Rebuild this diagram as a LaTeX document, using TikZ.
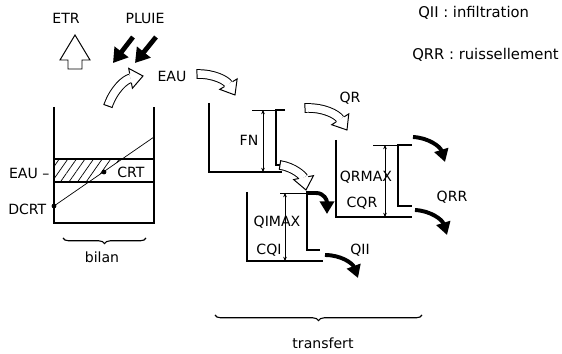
\documentclass[tikz,border=0pt]{standalone}
\usepackage{fontspec}
\setmainfont{DejaVu Sans}
\usetikzlibrary{positioning, arrows.meta, decorations.markings, decorations.pathreplacing, patterns.meta}
\tikzset{
    wand/.style      = {line width=1.4pt},
    wehr/.style      = {line width=1.9pt},
    duenn/.style     = {line width=0.5pt},
    mass/.style      = {line width=0.4pt, {Stealth[length=3pt,width=2.6pt]}-{Stealth[length=3pt,width=2.6pt]}},
    beschr/.style    = {font=\fontsize{10}{12}\selectfont, inner sep=1pt},
    legende/.style   = {font=\fontsize{10.5}{12}\selectfont, inner sep=0pt, anchor=west},
    fluss/.style     = {line width=2.8pt, -{Triangle[length=9pt, width=10pt]}},
    regen/.style     = {line width=3.4pt, -{Triangle[length=10pt, width=12pt]}},
    hohlschaft/.style= {line width=0.7pt, double=white, double distance=5.4pt, shorten >=9pt},
    hohlkopf/.style  = {postaction={decorate}, decoration={markings,
        mark=at position 0 with {\draw[line width=0.7pt] (0,-3.4pt) -- (0,3.4pt);},
        mark=at position 1 with {\draw[line width=0.7pt, fill=white, line join=miter]
            (-9pt,3.4pt) -- (-9pt,7.2pt) -- (0,0) -- (-9pt,-7.2pt) -- (-9pt,-3.4pt);}}},
    klammer/.style   = {decorate, decoration={brace, mirror, amplitude=4pt}, line width=0.8pt}
}
\newcommand\hohlpfeil[3]{%
    \draw[hohlschaft] (#1) to[bend left=#3] (#2);
    \path[hohlkopf] (#1) to[bend left=#3] (#2);
}

\begin{document}
\begin{tikzpicture}[x=0.025cm, y=-0.025cm]
    \useasboundingbox (0,0) rectangle (562,354);

    \node[beschr] (etr) at (66,18) {ETR};
    \node[beschr] (pluie) at (145,18) {PLUIE};
    \node[beschr] (eau) at (172,76) {EAU};
    \node[legende] (legqii) at (418,13) {QII : infiltration};
    \node[legende] (legqrr) at (412,55) {QRR : ruissellement};

    % bilan
    \coordinate (dcrt) at (54,206);
    \coordinate (crt) at (104,172);
    \fill[pattern={Lines[angle=55, distance=5pt, line width=0.5pt]}]
        (54,159) -- (122,159) -- (89,182) -- (54,182) -- cycle;
    \draw[line width=0.9pt] (54,159) -- (154,159) (54,182) -- (154,182);
    \draw[duenn] (dcrt) -- (154,137);
    \draw[wand] (54,107) |- (154,223) -- (154,107);
    \fill (dcrt) circle (1.7pt) (crt) circle (1.7pt);
    \node[beschr, anchor=east] (eaulinks) at (51,173) {EAU –};
    \node[beschr, anchor=east] (dcrtlabel) at (48,209) {DCRT};
    \node[beschr] (crtlabel) at (131,172) {CRT};
    \draw[klammer] (63,238) -- (146,238);
    \node[beschr] (bilan) at (102,257) {bilan};

    \draw[line width=0.7pt, fill=white] (68,69) -- (68,60) -- (60,60) -- (75,35)
        -- (90,60) -- (82,60) -- (82,69) -- cycle;
    \coordinate (regen1) at (133,37);
    \coordinate (regen2) at (156,37);
    \draw[regen] (regen1) -- ++(-20,26);
    \draw[regen] (regen2) -- ++(-21,26);

    % transfert
    \coordinate (bilanaus) at (108,106);
    \coordinate (eauein) at (143,76);
    \coordinate (eauaus) at (197,74);
    \coordinate (fnein) at (235,95);
    \coordinate (qraus) at (305,108);
    \coordinate (qrein) at (347,130);
    \coordinate (fnaus) at (280,165);
    \coordinate (qiein) at (306,190);
    \hohlpfeil{bilanaus}{eauein}{30}
    \hohlpfeil{eauaus}{fnein}{30}
    \hohlpfeil{qraus}{qrein}{30}
    \hohlpfeil{fnaus}{qiein}{35}

    \draw[wand] (209,103) |- (282,172);
    \draw[wehr] (285,110) -| (276,165) -- (280,165);
    \draw[duenn] (252,110) -- (276,110);
    \draw[mass] (263,110) -- (263,172);
    \node[beschr] (fn) at (249,140) {FN};
    \node[beschr] (qr) at (350,98) {QR};

    \draw[wand] (247,192) |- (323,261);
    \draw[wehr] (307,193) -- (307,250) -- (320,250);
    \draw[duenn] (280,193) -- (307,193);
    \draw[mass] (285,193) -- (285,261);
    \draw[fluss] (306,193) -- (316,193) .. controls (324,193) and (327,200) .. (327,214);
    \node[beschr] (qimax) at (277,222) {QIMAX};
    \node[beschr] (cqi) at (269,250) {CQI};
    \draw[fluss] (325,255) to[bend left=35] (358,278);
    \node[beschr] (qii) at (360,250) {QII};

    \draw[wand] (336,140) |- (412,217);
    \draw[wehr] (412,145) -| (398,206) -- (412,206);
    \draw[duenn] (373,145) -- (398,145);
    \draw[mass] (385,145) -- (385,217);
    \node[beschr] (qrmax) at (366,177) {QRMAX};
    \node[beschr] (cqr) at (362,203) {CQR};
    \draw[fluss] (413,137) to[bend left=35] (445,162);
    \draw[fluss] (415,210) to[bend left=35] (447,235);
    \node[beschr] (qrr) at (452,197) {QRR};

    \draw[klammer] (215,315) -- (422,315);
    \node[beschr] (transfert) at (323,343) {transfert};
\end{tikzpicture}
\end{document}
